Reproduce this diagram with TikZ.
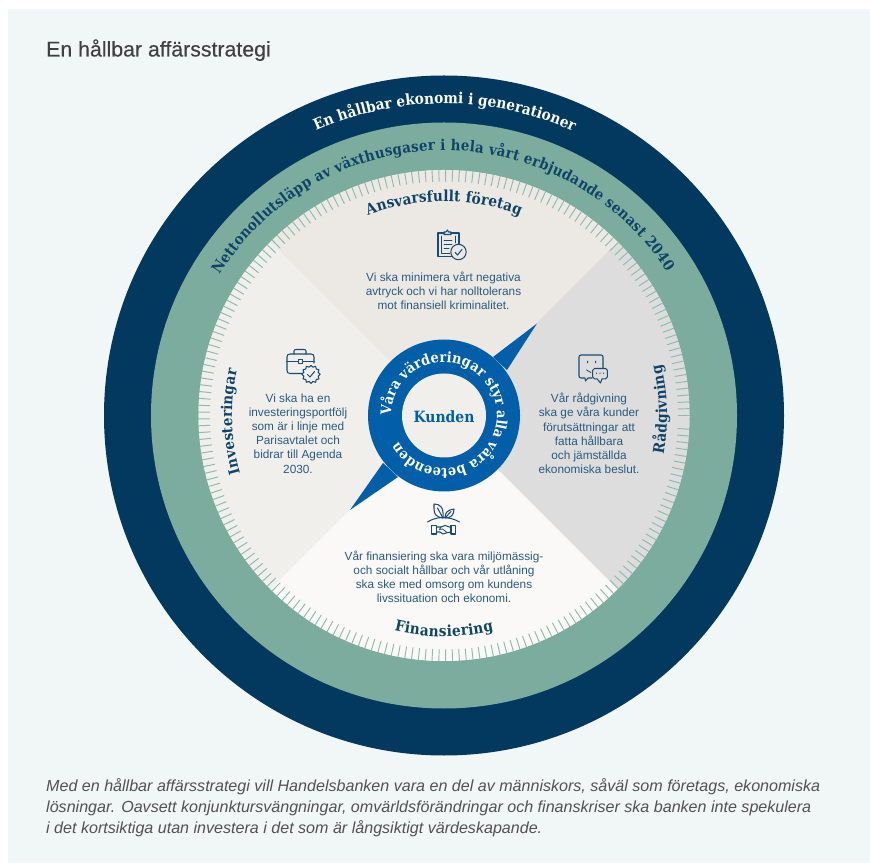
\documentclass[tikz,border=0pt]{standalone}
\usepackage{fontspec}
\usetikzlibrary{decorations.text}
\setmainfont{Liberation Sans}
\newfontfamily\slab{DejaVu Serif Condensed}[BoldFont={DejaVu Serif Condensed Bold}]
\newfontfamily\titlefont{Liberation Sans}[FakeBold=0.25]
\definecolor{panelbg}{HTML}{F1F6F6}
\definecolor{navyring}{HTML}{03395F}
\definecolor{greenring}{HTML}{7BAC9E}
\definecolor{tickgreen}{HTML}{8FBAAD}
\definecolor{coreblue}{HTML}{005FA8}
\definecolor{headnavy}{HTML}{0F4468}
\definecolor{bodyblue}{HTML}{2C5A80}
\definecolor{iconblue}{HTML}{1A4B72}
\definecolor{quadtop}{HTML}{ECE9E5}
\definecolor{quadright}{HTML}{DDDDDD}
\definecolor{quadbottom}{HTML}{FAF9F7}
\definecolor{quadleft}{HTML}{F0EFEC}
\tikzset{
  x=1pt,y=1pt,
  bodytext/.style={align=center,text=bodyblue,inner sep=0pt,font=\fontsize{11.8}{14.15}\selectfont},
  captiontext/.style={anchor=base west,inner sep=0pt,text=black!68,font=\fontsize{16.08}{18}\selectfont\itshape},
  iconline/.style={draw=iconblue,line width=1.05pt,line join=round,line cap=round},
  arctext/.style 2 args={decorate,decoration={text along path,text color=#1,text align={fit to path},text={#2}}},
}
\begin{document}
\begin{tikzpicture}
\useasboundingbox (0,0) rectangle (870,863);
\fill[white] (0,0) rectangle (870,863);
\fill[panelbg] (8,0) rectangle (870,854);
\begin{scope}[shift={(444,447.5)}]
  \fill[navyring] (0,0) circle[radius=340pt];
  \fill[greenring] (0,0) circle[radius=293pt];
  \fill[quadtop] (0,0) circle[radius=245.5pt];
  \fill[quadtop] (0,0) -- (45:245.5pt) arc[start angle=45,end angle=135,radius=245.5pt] -- cycle;
  \fill[quadleft] (0,0) -- (135:245.5pt) arc[start angle=135,end angle=225,radius=245.5pt] -- cycle;
  \fill[quadbottom] (0,0) -- (225:245.5pt) arc[start angle=225,end angle=315,radius=245.5pt] -- cycle;
  \fill[quadright] (0,0) -- (315:245.5pt) arc[start angle=315,end angle=405,radius=245.5pt] -- cycle;
  \foreach \a in {0,1.6,...,358.4}
    \draw[tickgreen,line width=.95pt] (\a:234pt) -- (\a:246pt);
  % core
  \fill[coreblue] (0,0) circle[radius=76pt];
  \fill[coreblue] (49,58.5) -- (93,92) -- (63,45.5) -- cycle;
  \fill[coreblue] (-61,-47.5) -- (-94,-94.5) -- (-46,-61.5) -- cycle;
  \fill[quadleft] (0,0) circle[radius=42pt];
  % curved labels
  \path[arctext={white}{|\slab\bfseries\fontsize{15.2}{18}\selectfont|En hållbar ekonomi i generationer}]
    (114.2:312pt) arc[start angle=114.2,end angle=65.8,radius=312pt];
  \path[arctext={headnavy}{|\slab\bfseries\fontsize{14.9}{18}\selectfont|Nettonollutsläpp av växthusgaser i hela vårt erbjudande senast 2040}]
    (147.9:265pt) arc[start angle=147.9,end angle=32.8,radius=265pt];
  \path[arctext={headnavy}{|\slab\bfseries\fontsize{15.2}{18}\selectfont|Ansvarsfullt företag}]
    (110.8:214pt) arc[start angle=110.8,end angle=69.2,radius=214pt];
  \path[arctext={headnavy}{|\slab\bfseries\fontsize{15.2}{18}\selectfont|Finansiering}]
    (257:221pt) arc[start angle=257,end angle=283,radius=221pt];
  \path[arctext={headnavy}{|\slab\bfseries\fontsize{15}{18}\selectfont|Investeringar}]
    (195.9:212pt) arc[start angle=195.9,end angle=167.5,radius=212pt];
  \path[arctext={headnavy}{|\slab\bfseries\fontsize{15.2}{18}\selectfont|Rådgivning}]
    (-10:223pt) arc[start angle=-10,end angle=13.2,radius=223pt];
  \path[arctext={white}{|\slab\bfseries\fontsize{14.4}{16}\selectfont|Våra värderingar styr alla våra beteenden}]
    (180:53pt) arc[start angle=180,end angle=-150,radius=53pt];
\end{scope}
\node[inner sep=0pt,text=coreblue,font=\slab\bfseries\fontsize{15.5}{16}\selectfont] (kunden) at (444,446) {Kunden};
% title
\node[anchor=base west,inner sep=0pt,text=black!75,font=\titlefont\fontsize{21.3}{22}\selectfont] (title) at (46,806.5) {En hållbar affärsstrategi};
% body
\node[bodytext] (tansvar) at (443.5,572) {Vi ska minimera vårt negativa\\avtryck och vi har nolltolerans\\mot finansiell kriminalitet.};
\node[bodytext] (tinvest) at (298,429.5) {Vi ska ha en\\investeringsportfölj\\som är i linje med\\Parisavtalet och\\bidrar till Agenda\\2030.};
\node[bodytext] (tradgiv) at (589,429.5) {Vår rådgivning\\ska ge våra kunder\\förutsättningar att\\fatta hållbara\\och jämställda\\ekonomiska beslut.};
\node[bodytext] (tfinans) at (444,286) {Vår finansiering ska vara miljömässig-\\och socialt hållbar och vår utlåning\\ska ske med omsorg om kundens\\livssituation och ekonomi.};
% caption
\node[captiontext] (cap1) at (46,72) {Med en hållbar affärsstrategi vill Handelsbanken vara en del av människors, såväl som företags, ekonomiska};
\node[captiontext] (cap2) at (46,51) {lösningar. Oavsett konjunktursvängningar, omvärldsförändringar och finanskriser ska banken inte spekulera};
\node[captiontext] (cap3) at (46,30) {i det kortsiktiga utan investera i det som är långsiktigt värdeskapande.};
% icons, in reference pixel coordinates
\begin{scope}[shift={(0,863)},y=-1pt,x=1pt]
  % clipboard
  \draw[iconline] (444,233) -- (440,233) -- (438,233) -- (438,256.5) -- (452,256.5);
  \draw[iconline] (459,246) -- (459,233) -- (451,233);
  \draw[iconline] (444,234.5) -- (444,232) -- (446,232) -- (447.5,230) -- (448.5,232) -- (451,232) -- (451,234.5) -- cycle;
  \draw[iconline,line width=.8pt] (441.5,236) -- (441.5,253) -- (450,253);
  \draw[iconline,line width=.8pt] (455.5,236) -- (455.5,243);
  \draw[iconline,line width=.8pt] (444,240) -- (452,240) (444,244) -- (452,244) (444,248) -- (449,248);
  \draw[iconline,fill=quadtop] (458.5,252) circle[radius=7.7pt];
  \draw[iconline] (455,252.5) -- (457.5,255) -- (462,249.5);
  % briefcase
  \draw[iconline] (308,373.5) -- (290,373.5) .. controls (288,373.5) and (287,372.5) .. (287,370.5) -- (287,357) .. controls (287,355) and (288,354) .. (290,354) -- (311,354) .. controls (313,354) and (314,355) .. (314,357) -- (314,363);
  \draw[iconline] (294,354) -- (294,351) .. controls (294,350) and (295,349.5) .. (296,349.5) -- (304,349.5) .. controls (305,349.5) and (306,350) .. (306,351) -- (306,354);
  \draw[iconline] (287,361.5) -- (298,361.5) (302.5,361.5) -- (314,361.5);
  \draw[iconline,line width=.9pt] (298,359.3) rectangle (302.5,363.7);
  \draw[iconline,fill=quadleft] (311,365.5)
    \foreach \i in {1,...,23} { -- ({311+(mod(\i,2)==0?9.2:7.4)*sin(\i*15)},{374.3-(mod(\i,2)==0?9.2:7.4)*cos(\i*15)}) } -- cycle;
  \draw[iconline] (307.5,374.5) -- (310,377) -- (314.5,371.5);
  % speech bubbles
  \draw[iconline] (592,378) -- (588,378) -- (585.5,381) -- (585,378) -- (581,378) .. controls (579.8,378) and (579,377.2) .. (579,376) -- (579,357) .. controls (579,355.8) and (579.8,355) .. (581,355) -- (601,355) .. controls (602.2,355) and (603,355.8) .. (603,357) -- (603,368);
  \draw[iconline,fill=quadright] (594.5,368.5) -- (605.5,368.5) .. controls (606.5,368.5) and (607.3,369.3) .. (607.3,370.3) -- (607.3,377) .. controls (607.3,378) and (606.5,378.8) .. (605.5,378.8) -- (602,378.8) -- (600.5,383) -- (597,378.8) -- (594.5,378.8) .. controls (593.5,378.8) and (592.7,378) .. (592.7,377) -- (592.7,370.3) .. controls (592.7,369.3) and (593.5,368.5) .. (594.5,368.5) -- cycle;
  \fill[iconblue] (587,361) rectangle (588,363.2) (595,361) rectangle (596,363.2);
  \draw[iconline,line width=.8pt] (586.5,370) -- (591,372.5);
  \fill[iconblue] (596.5,373.2) circle[radius=.7pt] (600,373.2) circle[radius=.7pt] (603.5,373.2) circle[radius=.7pt];
  % plants and handshake
  \draw[iconline] (427.5,522) .. controls (437,516) and (449,516) .. (459.5,522);
  \draw[iconline] (443,518) .. controls (436,517) and (434,514) .. (434,509) -- (434,504) .. controls (440,504) and (444,507) .. (443,518) -- cycle;
  \draw[iconline] (443,518) -- (437.5,508);
  \draw[iconline] (445,518) .. controls (445,512) and (448,510) .. (454,509) .. controls (454,515) and (451,518) .. (445,518) -- cycle;
  \draw[iconline] (445,518) -- (451,511.5);
  \draw[iconline] (431.5,525.5) -- (436.5,525.5) -- (436.5,534) -- (431.5,534) -- cycle;
  \draw[iconline] (455.5,525.5) -- (451,525.5) -- (451,534) -- (455.5,534) -- cycle;
  \draw[iconline] (436.5,527) -- (441,527) -- (445,525.5) -- (451,527.5);
  \draw[iconline] (436.5,532) -- (440,532) -- (443,534) -- (446,533) -- (451,532);
  \draw[iconline,line width=.8pt] (441,527) -- (439.5,529.5) -- (442.5,529) -- (447,532.5);
\end{scope}
\end{tikzpicture}
\end{document}
